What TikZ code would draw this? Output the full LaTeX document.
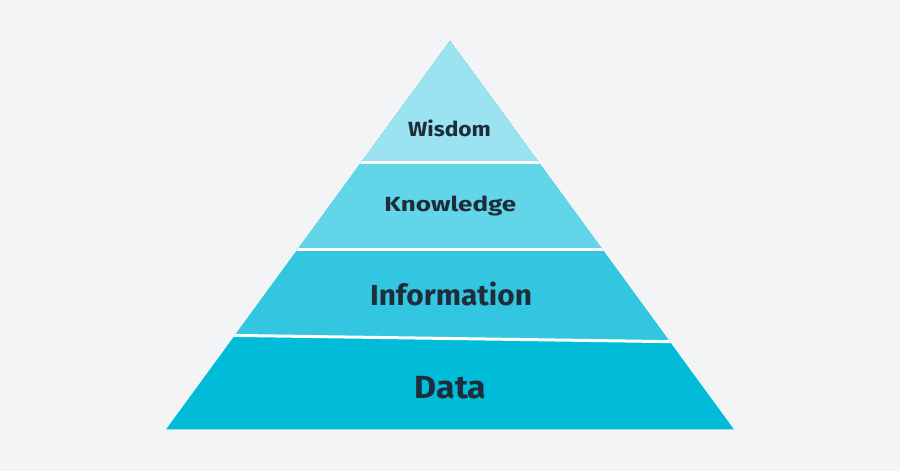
\documentclass[tikz,border=0pt]{standalone}
\usepackage{fontspec}
\setmainfont{Fira Sans}
\definecolor{bg}{HTML}{F3F4F6}
\definecolor{cW}{HTML}{9BE3F1}
\definecolor{cK}{HTML}{63D5E8}
\definecolor{cI}{HTML}{33C6E1}
\definecolor{cD}{HTML}{00BCD9}
\definecolor{ink}{HTML}{1F2D3A}
\begin{document}
\begin{tikzpicture}[x=1pt,y=1pt,
  lbl/.style={anchor=base,text=ink,font=\bfseries,inner sep=0pt,transform shape},
  sep/.style={draw=white,line width=3pt}]
\fill[bg] (0,0) rectangle (900,471);
\useasboundingbox (0,0) rectangle (900,471);
\coordinate (apex) at (450,430);
\coordinate (bl) at (166,41.5);
\coordinate (br) at (734,41.5);
\begin{scope}
\clip (apex) -- (bl) -- (br) -- cycle;
\fill[cD] (100,0) rectangle (800,480);
\fill[cI] (100,480) -- (100,137.5) -- (800,127.5) -- (800,480) -- cycle;
\fill[cK] (100,221) rectangle (800,480);
\fill[cW] (100,308.7) rectangle (800,480);
\draw[sep] (100,137.5) -- (800,127.5);
\draw[sep] (100,221) -- (800,221);
\draw[sep] (100,308.7) -- (800,308.7);
\end{scope}
\node[lbl,xscale=1.11,font=\bfseries\fontsize{20.5}{20.5}\selectfont] (w) at (449.5,334.3) {Wisdom};
\node[lbl,xscale=1.27,font=\bfseries\fontsize{20.5}{20.5}\selectfont] (k) at (450.3,259.5) {Knowledge};
\node[lbl,xscale=1.03,font=\bfseries\fontsize{29}{29}\selectfont] (i) at (451,165.7) {Information};
\node[lbl,xscale=1.06,font=\bfseries\fontsize{32}{32}\selectfont] (d) at (450.5,72) {Data};
\end{tikzpicture}
\end{document}
